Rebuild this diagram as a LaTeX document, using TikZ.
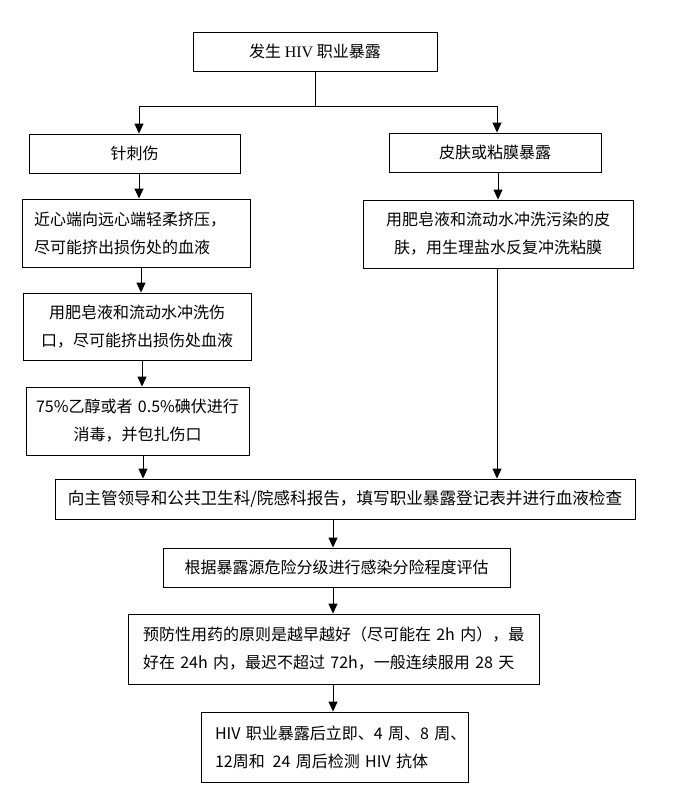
\documentclass[tikz,border=0pt]{standalone}
\usepackage{fontspec}
\setmainfont{Noto Sans CJK SC}
\newfontfamily\tms{Liberation Serif}
\usetikzlibrary{arrows.meta}
\begin{document}
\begin{tikzpicture}[x=1pt,y=-1pt,
  box/.style={draw=black,line width=0.9pt,inner sep=0pt,inner xsep=12pt,
    font={\fontsize{16}{28}\selectfont},align=center},
  lbox/.style={box,align=left},
  arr/.style={draw=black,line width=0.9pt,-{Triangle[width=9pt,length=10pt]}},
  ln/.style={draw=black,line width=0.9pt}]
\useasboundingbox[fill=white] (0,0) rectangle (682,800);

\node[box,minimum width=244pt,minimum height=39pt] (title) at (315,51.5) {发生 {\tms HIV} 职业暴露};
\node[box,minimum width=211pt,minimum height=39pt] (needle) at (134.5,153.5) {针刺伤};
\node[box,minimum width=212pt,minimum height=39pt] (skin) at (495,152.5) {皮肤或粘膜暴露};
\node[lbox,text width=204pt,minimum height=68pt] (squeeze) at (136,233) {\mbox{近心端向远心端轻柔挤压，}\\\mbox{尽可能挤出损伤处的血液}};
\node[box,text width=246pt,minimum height=68pt] (skinwash) at (498,234) {\mbox{用肥皂液和流动水冲洗污染的皮}\\\mbox{肤，用生理盐水反复冲洗粘膜}};
\node[box,text width=204pt,minimum height=67pt] (wash) at (137,326.5) {\mbox{用肥皂液和流动水冲洗伤}\\\mbox{口，尽可能挤出损伤处血液}};
\node[box,text width=205pt,inner xsep=9pt,minimum height=68pt] (disinfect) at (137.5,421) {\mbox{75\%乙醇或者 0.5\%碘伏进行}\\\mbox{消毒，并包扎伤口}};
\node[box,text width=556pt,minimum height=40pt,font={\fontsize{16.6}{28}\selectfont}] (report) at (345,499) {\mbox{向主管领导和公共卫生科/院感科报告，填写职业暴露登记表并进行血液检查}};
\node[box,text width=323pt,minimum height=39pt] (assess) at (336.5,567.5) {\mbox{根据暴露源危险分级进行感染分险程度评估}};
\node[lbox,inner xsep=15pt,text width=381pt,minimum height=70pt] (prophy) at (333.5,649) {\mbox{预防性用药的原则是越早越好（尽可能在 2h 内），最}\\\mbox{好在 24h 内，最迟不超过 72h，一般连续服用 28 天}};
\node[lbox,inner xsep=14pt,text width=239pt,minimum height=70pt] (test) at (334.5,747) {\mbox{HIV 职业暴露后立即、4 周、8 周、}\\\mbox{12周和 \,24 周后检测 HIV 抗体}};

\coordinate (j) at (315,106);
\coordinate (jl) at (139,106);
\coordinate (jr) at (497,106);
\draw[ln] (title.south -| j) -- (j);
\draw[ln] (jl) -- (jr);
\draw[arr] (jl) -- (needle.north -| jl);
\draw[arr] (jr) -- (skin.north -| jr);

\draw[arr] (needle.south -| 139,0) -- (squeeze.north -| 139,0);
\draw[arr] (squeeze.south -| 141,0) -- (wash.north -| 141,0);
\draw[arr] (wash.south -| 142,0) -- (disinfect.north -| 142,0);
\draw[arr] (disinfect.south -| 143,0) -- (report.north -| 143,0);
\draw[arr] (skin.south -| 498,0) -- (skinwash.north -| 498,0);
\draw[arr] (skinwash.south -| 497,0) -- (report.north -| 497,0);
\draw[arr] (report.south -| 333,0) -- (assess.north -| 333,0);
\draw[arr] (assess.south -| 333,0) -- (prophy.north -| 333,0);
\draw[arr] (prophy.south -| 333,0) -- (test.north -| 333,0);
\end{tikzpicture}
\end{document}
